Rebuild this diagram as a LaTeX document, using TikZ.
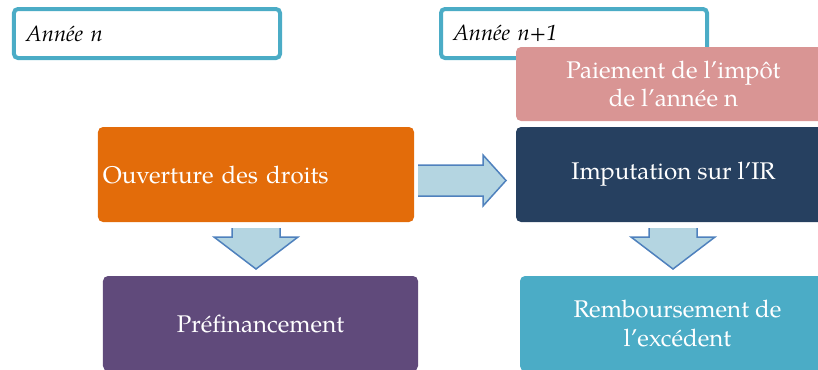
\documentclass[tikz,border=0pt]{standalone}
\usepackage{fontspec}
\setmainfont{TeX Gyre Pagella}
\definecolor{cFrame}{RGB}{75,172,198}
\definecolor{cOrange}{RGB}{227,108,10}
\definecolor{cNavy}{RGB}{38,64,96}
\definecolor{cPink}{RGB}{217,149,148}
\definecolor{cPurple}{RGB}{96,74,123}
\definecolor{cTealBox}{RGB}{75,172,198}
\definecolor{cArrowFill}{RGB}{180,213,225}
\definecolor{cArrowLine}{RGB}{79,129,189}
\tikzset{
  yearbox/.style={draw=cFrame, line width=4bp, rounded corners=4bp, fill=white,
    minimum width=266bp, minimum height=49bp, text width=242bp, align=left,
    inner xsep=12bp, font=\fontsize{22}{26}\selectfont\itshape},
  bigbox/.style={rounded corners=5bp, minimum width=315bp, minimum height=95bp,
    text=white, font=\fontsize{24.2}{29}\selectfont, align=center, inner sep=5bp},
  arrowfill/.style={fill=cArrowFill},
  arrowline/.style={draw=cArrowLine, line width=1.5bp, line join=miter}
}
\begin{document}
\begin{tikzpicture}[x=1bp,y=-1bp]
\useasboundingbox (0,0) rectangle (818,369);
\clip (0,0) rectangle (818,369);
% year boxes
\node[yearbox] (yearn) at (147,33.5) {Année n};
\node[yearbox] (yearn1) at (574,33.5) {Année n+1};
% boxes
\node[bigbox, fill=cPink, minimum height=74bp, font=\fontsize{24.2}{27.5}\selectfont] (paiement) at (673.5,84) {Paiement de l’impôt\\de l’année n};
\node[bigbox, fill=cNavy] (imput) at (673.5,174.5) {Imputation sur l’IR};
\node[bigbox, fill=cOrange, minimum width=316bp, text width=306bp, align=left] (ouvert) at (256,174.5) {Ouverture des droits};
\node[bigbox, fill=cPurple] (prefin) at (260.5,323.5) {Préfinancement};
\node[bigbox, fill=cTealBox] (rembours) at (677.5,323.5) {Remboursement de\\l’excédent};
% right arrow
\fill[arrowfill] (418,165) -- (483,165) -- (483,155) -- (506,180.5) -- (483,206) -- (483,196) -- (418,196) -- cycle;
\draw[arrowline] (418,165) -- (483,165) -- (483,155) -- (506,180.5) -- (483,206) -- (483,196) -- (418,196);
% down arrows
\foreach \cx in {256,673}{
  \fill[arrowfill] (\cx-24,228) -- (\cx-24,237) -- (\cx-42,237) -- (\cx,269) -- (\cx+42,237) -- (\cx+24,237) -- (\cx+24,228) -- cycle;
  \draw[arrowline] (\cx-24,228) -- (\cx-24,237) -- (\cx-42,237) -- (\cx,269) -- (\cx+42,237) -- (\cx+24,237) -- (\cx+24,228);
}
\end{tikzpicture}
\end{document}
